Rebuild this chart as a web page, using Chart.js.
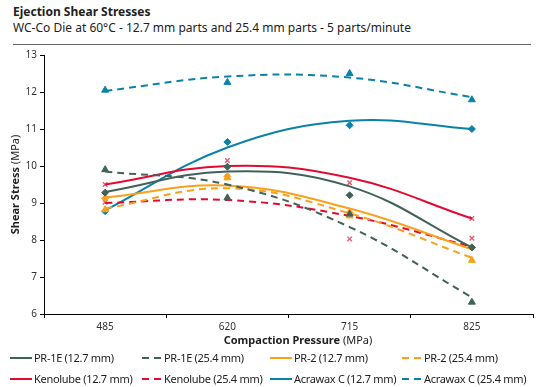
<!DOCTYPE html>
<html>
<head>
<meta charset="utf-8">
<script src="https://cdn.jsdelivr.net/npm/chart.js@4"></script>
<style>
  body { margin: 0; width: 540px; height: 387px; background: #fff; font-family: "Noto Sans", sans-serif; color: #222; position: relative; overflow: hidden; }
  #title { position: absolute; left: 13px; top: 3px; font-size: 12px; font-weight: bold; }
  #subtitle { position: absolute; left: 13px; top: 19px; font-size: 12px; }
  #rule { position: absolute; left: 13px; top: 44px; width: 518px; height: 0; border-top: 1.5px solid #666; }
  #wrap { position: absolute; left: 0; top: 46px; width: 540px; height: 304px; }
  #legend { position: absolute; left: 10px; top: 349px; display: grid; grid-template-columns: 130px 130px 130px 130px; row-gap: 4px; font-size: 11px; letter-spacing: -0.3px; }
  .item { display: flex; align-items: center; height: 17px; white-space: nowrap; }
  .item svg { margin-right: 1px; }
</style>
</head>
<body>
<div id="title">Ejection Shear Stresses</div>
<div id="subtitle">WC-Co Die at 60°C - 12.7 mm parts and 25.4 mm parts - 5 parts/minute</div>
<div id="rule"></div>
<div id="wrap"><canvas id="myChart" width="540" height="304"></canvas></div>
<div id="legend"></div>
<script>
'use strict';

// Categories (compaction pressure, MPa)
const pressures = ['485', '620', '715', '825'];
const yTicks = [6, 7, 8, 9, 10, 11, 12, 13];

// Series names
const names = [
  'PR-1E (12.7 mm)',
  'PR-1E (25.4 mm)',
  'PR-2 (12.7 mm)',
  'PR-2 (25.4 mm)',
  'Kenolube (12.7 mm)',
  'Kenolube (25.4 mm)',
  'Acrawax C (12.7 mm)',
  'Acrawax C (25.4 mm)'
];

// Measured shear stress (MPa)
const pr1e127 = [9.28, 9.98, 9.21, 7.80];
const pr1e254 = [9.90, 9.14, 8.70, 6.32];
const pr2127 = [9.13, 9.72, 8.74, 7.80];
const pr2254 = [8.82, 9.68, 8.65, 7.45];
const keno127 = [9.50, 10.15, 9.55, 8.58];
const keno254 = [9.02, 9.70, 8.03, 8.05];
const acra127 = [8.78, 10.65, 11.10, 11.00];
const acra254 = [12.05, 12.26, 12.50, 11.79];

// Trendline values read at each pressure
const pr1e127Trend = [9.30, 9.85, 9.45, 7.80];
const pr1e254Trend = [9.85, 9.50, 8.35, 6.45];
const pr2127Trend = [9.15, 9.47, 8.85, 7.75];
const pr2254Trend = [8.85, 9.40, 8.72, 7.52];
const keno127Trend = [9.50, 10.00, 9.68, 8.58];
const keno254Trend = [9.00, 9.08, 8.65, 7.82];
const acra127Trend = [8.80, 10.50, 11.22, 11.00];
const acra254Trend = [12.03, 12.42, 12.39, 11.86];

const points = [pr1e127, pr1e254, pr2127, pr2254, keno127, keno254, acra127, acra254];
const trends = [pr1e127Trend, pr1e254Trend, pr2127Trend, pr2254Trend, keno127Trend, keno254Trend, acra127Trend, acra254Trend];

const green = '#41625a';
const orange = '#f9a11b';
const red = '#e30a32';
const teal = '#0a82a8';
const colors = [green, green, orange, orange, red, red, teal, teal];
const markers = ['rectRot', 'triangle', 'rectRot', 'triangle', 'crossRot', 'crossRot', 'rectRot', 'triangle'];
const dash = [7, 5];

// build datasets: trendline + markers for every series
let datasets = [];
for (let i = 0; i < names.length; i++) {
  const dashed = i % 2 === 1;
  datasets.push({
    label: names[i] + ' trend',
    data: trends[i],
    borderColor: colors[i],
    borderWidth: 2,
    borderDash: dashed ? dash : [],
    tension: 0.4,
    pointRadius: 0,
    fill: false
  });
  const isCross = markers[i] === 'crossRot';
  datasets.push({
    label: names[i],
    data: points[i],
    showLine: false,
    pointStyle: markers[i],
    pointRadius: isCross ? 3.2 : (markers[i] === 'triangle' ? 4 : 3.5),
    pointBackgroundColor: colors[i],
    pointBorderColor: isCross ? '#ea5a76' : colors[i],
    pointBorderWidth: isCross ? 1.4 : 1
  });
}

// axis titles with bold + normal parts
const axisTitles = {
  id: 'axisTitles',
  afterDraw(chart) {
    const ctx = chart.ctx;
    const area = chart.chartArea;
    function mixed(bold, normal, x, y) {
      ctx.font = 'bold 11px "Noto Sans"';
      const w1 = ctx.measureText(bold).width;
      ctx.font = '11px "Noto Sans"';
      const w2 = ctx.measureText(normal).width;
      const start = x - (w1 + w2) / 2;
      ctx.textAlign = 'left';
      ctx.textBaseline = 'middle';
      ctx.fillStyle = '#222';
      ctx.font = 'bold 11px "Noto Sans"';
      ctx.fillText(bold, start, y);
      ctx.font = '11px "Noto Sans"';
      ctx.fillText(normal, start + w1, y);
    }
    ctx.save();
    mixed('Compaction Pressure ', '(MPa)', 298, area.bottom + 27);
    ctx.translate(16, (area.top + area.bottom) / 2);
    ctx.rotate(-Math.PI / 2);
    mixed('Shear Stress ', '(MPa)', 0, 0);
    ctx.restore();
  }
};

const ctx = document.getElementById('myChart').getContext('2d');
const chart = new Chart(ctx, {
  type: 'line',
  data: { labels: pressures, datasets: datasets },
  plugins: [axisTitles],
  options: {
    responsive: false,
    maintainAspectRatio: false,
    animation: false,
    layout: { padding: { left: 0, right: 7, top: 6.5, bottom: 0 } },
    plugins: { legend: { display: false }, tooltip: { enabled: false } },
    scales: {
      x: {
        type: 'category',
        offset: true,
        grid: { offset: true, drawOnChartArea: false, color: '#000', tickLength: 4 },
        border: { color: '#000', width: 1 },
        ticks: { font: { family: 'Noto Sans', size: 10 }, color: '#333', padding: 3 },
        afterFit: s => { s.height = 36; }
      },
      y: {
        min: 6,
        max: 13,
        afterBuildTicks: s => { s.ticks = yTicks.map(v => ({ value: v })); },
        grid: { drawOnChartArea: false, color: '#000', tickLength: 4 },
        border: { color: '#000', width: 1 },
        ticks: { font: { family: 'Noto Sans', size: 10 }, color: '#333', padding: 3 },
        afterFit: s => { s.width = 44; }
      }
    }
  }
});

// legend: 4 columns, line samples only
const legendEl = document.getElementById('legend');
for (let i = 0; i < names.length; i++) {
  const dashed = i % 2 === 1;
  const item = document.createElement('div');
  item.className = 'item';
  const line = dashed
    ? `<line x1="0" y1="5" x2="22" y2="5" stroke="${colors[i]}" stroke-width="2" stroke-dasharray="7,5" stroke-dashoffset="-2"/>`
    : `<line x1="0" y1="5" x2="22" y2="5" stroke="${colors[i]}" stroke-width="2"/>`;
  item.innerHTML = `<svg width="23" height="10">${line}</svg><span>${names[i]}</span>`;
  legendEl.appendChild(item);
}
</script>
</body>
</html>
